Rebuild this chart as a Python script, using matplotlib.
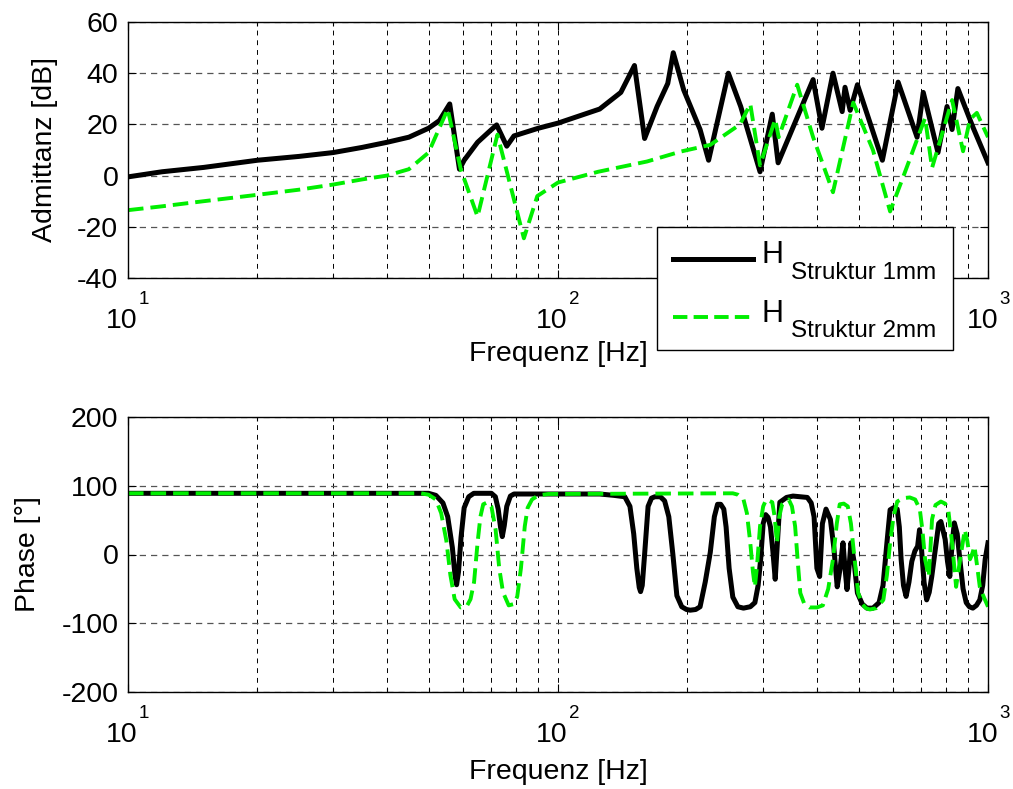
import matplotlib
matplotlib.use("Agg")
import matplotlib.pyplot as plt
from matplotlib.ticker import FixedLocator, LogLocator, NullFormatter
from matplotlib.transforms import ScaledTranslation, blended_transform_factory
from matplotlib.patches import Rectangle
from matplotlib.lines import Line2D
import numpy as np

plt.rcParams['font.family'] = ['Liberation Sans', 'DejaVu Sans']
plt.rcParams['axes.unicode_minus'] = False

# ---- Admittance magnitude [dB] ----
f_mag_1mm = [10, 12, 15, 20, 25, 30, 35, 40, 45, 50, 53, 56, 59, 60.5, 65, 69, 72, 76, 79,
             90, 100, 125, 140, 150.6, 159, 170, 180, 185.4, 196, 214, 224, 249, 266, 295,
             315, 325, 392, 411, 436, 458, 465, 478, 497, 568, 618, 684, 707, 765, 803,
             825, 851, 922, 1000]
mag_1mm = [-0.5, 1.5, 3.2, 6, 7.5, 9, 11, 13, 15, 18.5, 21.5, 28, 2.5, 6, 13, 17, 19.8, 11.5, 15.5,
           18.5, 20.5, 26, 32.5, 43, 14.5, 27, 36, 48, 33.5, 18, 6, 40, 27, 1.5,
           24, 5, 37.5, 18.5, 40, 25, 34.5, 25.5, 35.5, 6, 36.5, 15, 32.5, 9, 27,
           18, 34, 19, 5]

f_mag_2mm = [10, 12, 15, 20, 25, 30, 35, 40, 45, 50, 55.4, 59.4, 65, 72.3, 83.3, 89.5, 100,
             124, 161, 193, 226, 265, 280, 295, 320, 326, 360, 392, 436, 486, 540, 592,
             635, 714, 741, 825, 875, 908, 942, 1000]
mag_2mm = [-13.5, -12, -10, -7.5, -5.5, -3.5, -1.5, 0, 2.5, 9, 26, 2.5, -16, 16, -24.5, -8, -2.7,
           1.5, 5.5, 9.4, 12, 20, 28, 4, 22, 15, 35.5, 15, -6.5, 28.5, 10, -14,
           -0.5, 22.5, 3, 29.5, 9.5, 22, 24.5, 15]

# ---- Phase [deg] ----
f_ph_1mm = [10, 50, 52, 54, 55.4, 56.8, 57.6, 58.1, 58.7, 59.5, 60.5, 62, 63.7, 70, 71.5, 72.6,
            73.5, 74.2, 75, 76, 77.5, 79,
            125, 135, 143, 147, 150, 152.5, 154.5, 155.6, 157, 159, 162, 165, 168, 173, 177,
            181, 185, 189, 194, 199, 203, 209, 214, 220, 226, 231, 235, 239, 243, 246, 250,
            255, 262, 270, 280, 287, 292, 296, 300, 304, 308, 312, 316, 320, 324, 328, 340,
            352, 365, 380, 388, 394, 400, 406, 412, 420, 430, 438, 446, 453, 460, 465, 470,
            475, 480, 488, 497, 510, 523, 540, 558, 570, 582, 592, 603, 615, 622, 628, 636,
            645, 655, 665, 676, 686, 693, 700, 710, 720, 730, 740, 755, 768, 777, 786, 795,
            805, 815, 825, 835, 848, 860, 875, 890, 905, 922, 940, 957, 972, 985, 1000]
ph_1mm = [89, 89, 86, 75, 55, 10, -30, -44, -25, 25, 68, 84, 89, 89, 84, 66,
          40, 26, 42, 70, 85, 88,
          88, 86, 84, 70, 30, -20, -48, -54, -45, 0, 70, 82, 84, 84, 78,
          55, 0, -60, -76, -80, -81, -80, -76, -40, 3, 55, 73, 73, 66, 40, -20,
          -62, -76, -78, -76, -70, -45, -7, 45, 58, 54, 40, 5, -36, 20, 76, 83,
          85, 84, 83, 75, 55, -20, -32, 45, 66, 51, 10, -47, -20, 17, -20, -51,
          -20, 17, -10, -56, -72, -78, -78, -70, -45, 17, 65, 68, 66, 40, -7, -45,
          -61, -40, -10, 5, 12, 36, 10, -40, -66, -55, -32, 10, 45, 48, 35, 22,
          -10, -32, 15, 46, 30, -7, -50, -70, -76, -78, -74, -66, -45, -7, 17]

f_ph_2mm = [10, 48, 50, 52, 53.5, 55, 56.2, 57.5, 59.4, 61.5, 62.6, 63.8, 65, 66, 67, 68.6,
            70, 71.6, 73, 74.5, 76.8, 79, 80.4, 82, 83.7, 85, 87, 90, 95,
            255, 262, 270, 275, 280, 284, 287, 290, 295, 300, 305, 315, 319, 323, 327, 332,
            344, 350, 356, 361, 366, 374, 384, 400, 413, 425, 436, 445, 452, 462, 472, 480,
            486, 493, 499, 510, 520, 531, 550, 571, 582, 592, 603, 615, 635, 658, 677, 694,
            704, 714, 728, 735, 741, 755, 777, 795, 808, 825, 843, 860, 883, 895, 908, 918,
            930, 945, 957, 975, 1000]
ph_2mm = [89, 89, 87, 80, 60, 20, -30, -65, -77, -74, -65, -40, 17, 55, 73, 76,
          70, 36, -20, -55, -74, -72, -61, -20, 41, 68, 80, 86, 88,
          89, 87, 80, 60, 17, -25, -47, -20, 41, 70, 80, 76, 55, 17, 55, 73,
          80, 70, 41, -10, -56, -72, -77, -77, -74, -50, -7, 45, 73, 74, 70, 45,
          12, -25, -56, -72, -78, -80, -78, -66, -30, 17, 55, 77, 82, 83, 80, 66,
          35, -7, -32, 10, 51, 72, 77, 74, 66, 17, -47, -10, 36, 20, -7, 0,
          12, -20, -47, -60, -76]

legend_main = ['H', 'H']
legend_sub = ['Struktur 1mm', 'Struktur 2mm']
xlabel = 'Frequenz [Hz]'
ylabel_mag = 'Admittanz [dB]'
ylabel_phase = 'Phase [°]'
mag_ticks = [-40, -20, 0, 20, 40, 60]
phase_ticks = [-200, -100, 0, 100, 200]
decade_ticks = [10, 100, 1000]

FS = 20.5
W, H = 1013, 789
fig = plt.figure(figsize=(W / 100, H / 100), dpi=100)
ax1 = fig.add_axes([128 / W, 1 - 278 / H, 860 / W, 256 / H])
ax2 = fig.add_axes([128 / W, 1 - 692 / H, 860 / W, 275 / H])

green = '#00ee00'


def px(dx, dy):
    """Offset given in pixels (figure is rendered at 100 dpi)."""
    return ScaledTranslation(dx / 100, dy / 100, fig.dpi_scale_trans)


def style_axis(ax, yticks, xlabel_y):
    ax.set_xscale('log')
    ax.set_xlim(decade_ticks[0], decade_ticks[-1])
    ax.set_ylim(yticks[0], yticks[-1])
    ax.yaxis.set_major_locator(FixedLocator(yticks))
    ax.xaxis.set_major_locator(FixedLocator(decade_ticks))
    ax.xaxis.set_minor_locator(LogLocator(base=10, subs=np.arange(2, 10)))
    ax.xaxis.set_minor_formatter(NullFormatter())
    ax.xaxis.set_major_formatter(NullFormatter())
    ax.tick_params(which='both', direction='in', top=True, right=True,
                   labelsize=FS, width=0.8)
    ax.tick_params(which='major', length=6)
    ax.tick_params(axis='y', pad=7)
    ax.tick_params(which='minor', length=3)
    ax.grid(True, axis='y', which='major', color='#555555', linestyle=(0, (5, 4)),
            linewidth=0.9)
    ax.grid(True, axis='x', which='both', color='black', linestyle=(0, (5, 5)),
            linewidth=0.7)
    for s in ax.spines.values():
        s.set_linewidth(1.0)
    # decade labels 10^n: base and raised exponent
    trans = blended_transform_factory(ax.transData, ax.transAxes)
    for t in decade_ticks:
        n = int(round(np.log10(t)))
        ax.text(t, 0, '10', transform=trans + px(10, -50), ha='right', va='baseline',
                fontsize=FS, clip_on=False)
        ax.text(t, 0, str(n), transform=trans + px(11, -26), ha='left', va='baseline',
                fontsize=13.5, clip_on=False)
    ax.set_xlabel(xlabel, fontsize=FS)
    ax.xaxis.set_label_coords(0.5, xlabel_y)
    ax.xaxis.label.set_va('top')


l1, = ax1.plot(f_mag_1mm, mag_1mm, color='black', linewidth=3.6, solid_joinstyle='round')
l2, = ax1.plot(f_mag_2mm, mag_2mm, color=green, linewidth=2.8, linestyle=(0, (4, 1.8)))
style_axis(ax1, mag_ticks, -0.245)
ax1.set_ylabel(ylabel_mag, fontsize=FS)
ax1.yaxis.set_label_coords((45 - 128) / 860, 0.5)
ax1.yaxis.label.set_va('center')

ax2.plot(f_ph_1mm, ph_1mm, color='black', linewidth=3.6, solid_joinstyle='round')
ax2.plot(f_ph_2mm, ph_2mm, color=green, linewidth=2.8, linestyle=(0, (4, 1.8)))
style_axis(ax2, phase_ticks, -0.243)
ax2.set_ylabel(ylabel_phase, fontsize=FS)
ax2.yaxis.set_label_coords((28 - 128) / 860, 0.5)
ax2.yaxis.label.set_va('center')

# legend box with subscripted entries
def fx(x):
    return x / W


def fy(y):
    return 1 - y / H


box = Rectangle((fx(657), fy(350)), fx(953) - fx(657), fy(227) - fy(350),
                transform=fig.transFigure, facecolor='white', edgecolor='black',
                linewidth=1.0, zorder=10)
fig.add_artist(box)
rows = [(259, 263, 279, l1), (317, 322, 337, l2)]
for (yl, yh, ys, src), main, sub in zip(rows, legend_main, legend_sub):
    fig.add_artist(Line2D([fx(673), fx(753)], [fy(yl), fy(yl)], transform=fig.transFigure,
                          color=src.get_color(), linewidth=src.get_linewidth(),
                          linestyle=src.get_linestyle(), zorder=11))
    fig.text(fx(761), fy(yh), main, fontsize=22, ha='left', va='baseline', zorder=11)
    fig.text(fx(791), fy(ys), sub, fontsize=17.5, ha='left', va='baseline', zorder=11)

fig.savefig('out.png', dpi=100)
